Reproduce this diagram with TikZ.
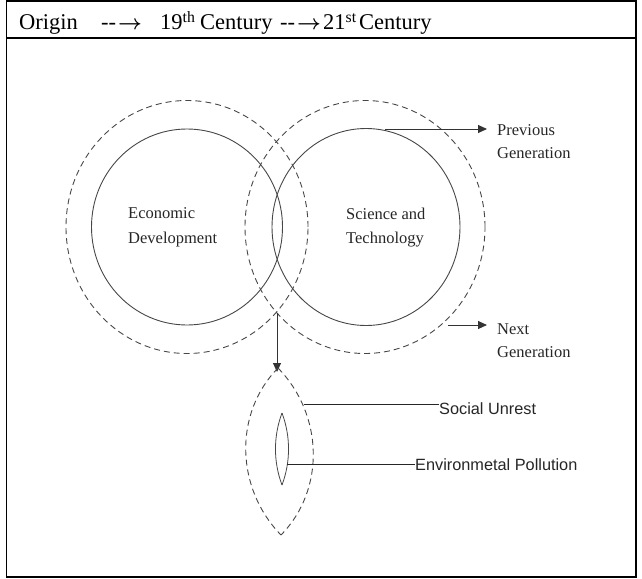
\documentclass[tikz,border=0pt]{standalone}
\usepackage{fontspec}
\setmainfont{Liberation Serif}
\newfontfamily\arialf{Liberation Sans}
\usetikzlibrary{shapes.geometric,arrows.meta}
\definecolor{ringgray}{rgb}{0.28,0.28,0.28}
\newcommand{\hdrarrow}{-{}-\kern2pt{\boldmath$\rightarrow$}}
\begin{document}
\begin{tikzpicture}[x=1pt,y=-1pt,
  solidring/.style={draw=ringgray, line width=0.9pt, ellipse, inner sep=0pt, outer sep=0pt},
  dashring/.style={solidring, dash pattern=on 6pt off 4pt},
  lbl/.style={font=\fontsize{16.5}{24.5}\selectfont, align=left, inner sep=0pt, anchor=west, text=black!85},
  sanslbl/.style={font=\arialf\fontsize{16.3}{18}\selectfont, inner sep=0pt, anchor=west, text=black!85},
  hdr/.style={font=\fontsize{22.5}{24}\selectfont, inner sep=0pt, anchor=base west},
  arr/.style={draw=black!80, line width=0.9pt, -{Triangle[length=9pt,width=8pt]}},
  conn/.style={draw=black!85, line width=0.8pt},
  lensdash/.style={draw=ringgray, line width=0.9pt, dash pattern=on 6pt off 4pt},
  lenssolid/.style={draw=ringgray, line width=0.8pt}]
\useasboundingbox (0,0) rectangle (642,578);
% frame
\draw[line width=1.6pt] (6.5,1) rectangle (636,577);
\draw[line width=1.6pt] (6.5,38) -- (636,38);
% header
\node[hdr] (h1) at (19,30) {Origin};
\node[hdr] (h2) at (101,30) {\hdrarrow};
\node[hdr] (h3) at (160,30) {19\textsuperscript{th}};
\node[hdr] (h4) at (200,30) {Century};
\node[hdr] (h5) at (280,30) {\hdrarrow};
\node[hdr] (h6) at (323,30) {21\textsuperscript{st}};
\node[hdr] (h7) at (359,30) {Century};
% rings
\node[dashring, minimum width=242pt, minimum height=253pt] (ld) at (187,227) {};
\node[dashring, minimum width=240pt, minimum height=253pt] (rd) at (365,227) {};
\node[solidring, minimum width=191pt, minimum height=196pt] (ls) at (187,227) {};
\node[solidring, minimum width=188pt, minimum height=197pt] (rs) at (366,227) {};
% labels
\node[lbl] (econ) at (128,227.5) {Economic\\Development};
\node[lbl] (sci) at (346,227.5) {Science and\\Technology};
\node[lbl, font=\fontsize{16.5}{23}\selectfont] (prev) at (497,141.5) {Previous\\Generation};
\node[lbl, font=\fontsize{16.5}{23}\selectfont] (next) at (497,340.5) {Next\\Generation};
% arrows
\coordinate (pv0) at (385,129);
\coordinate (nx0) at (448,325);
\draw[arr] (pv0) -- ([xshift=-10pt]prev.west |- pv0);
\draw[arr] (nx0) -- ([xshift=-10pt]next.west |- nx0);
\coordinate (xb) at (277,313);
\coordinate (dn) at (277,372);
\draw[arr] (xb) -- (dn);
% lenses
\coordinate (lt) at (278,368);
\coordinate (lb) at (281,535);
\draw[lensdash] (lt) .. controls +(-45,46) and +(-45,-46) .. (lb);
\draw[lensdash] (lt) .. controls +(45,46) and +(45,-46) .. (lb);
\coordinate (it) at (282,413);
\coordinate (ib) at (282,485);
\draw[lenssolid] (it) .. controls +(-8.7,23.2) and +(-8.7,-23.2) .. (ib);
\draw[lenssolid] (it) .. controls +(8.7,23.2) and +(8.7,-23.2) .. (ib);
% effect labels
\node[sanslbl] (su) at (439,409) {Social Unrest};
\node[sanslbl] (ep) at (415,465) {Environmetal Pollution};
\coordinate (su0) at (304,404);
\coordinate (ep0) at (287.4,464);
\draw[conn] (su0) -- (su0 -| su.west);
\draw[conn] (ep0) -- (ep0 -| ep.west);
\end{tikzpicture}
\end{document}
